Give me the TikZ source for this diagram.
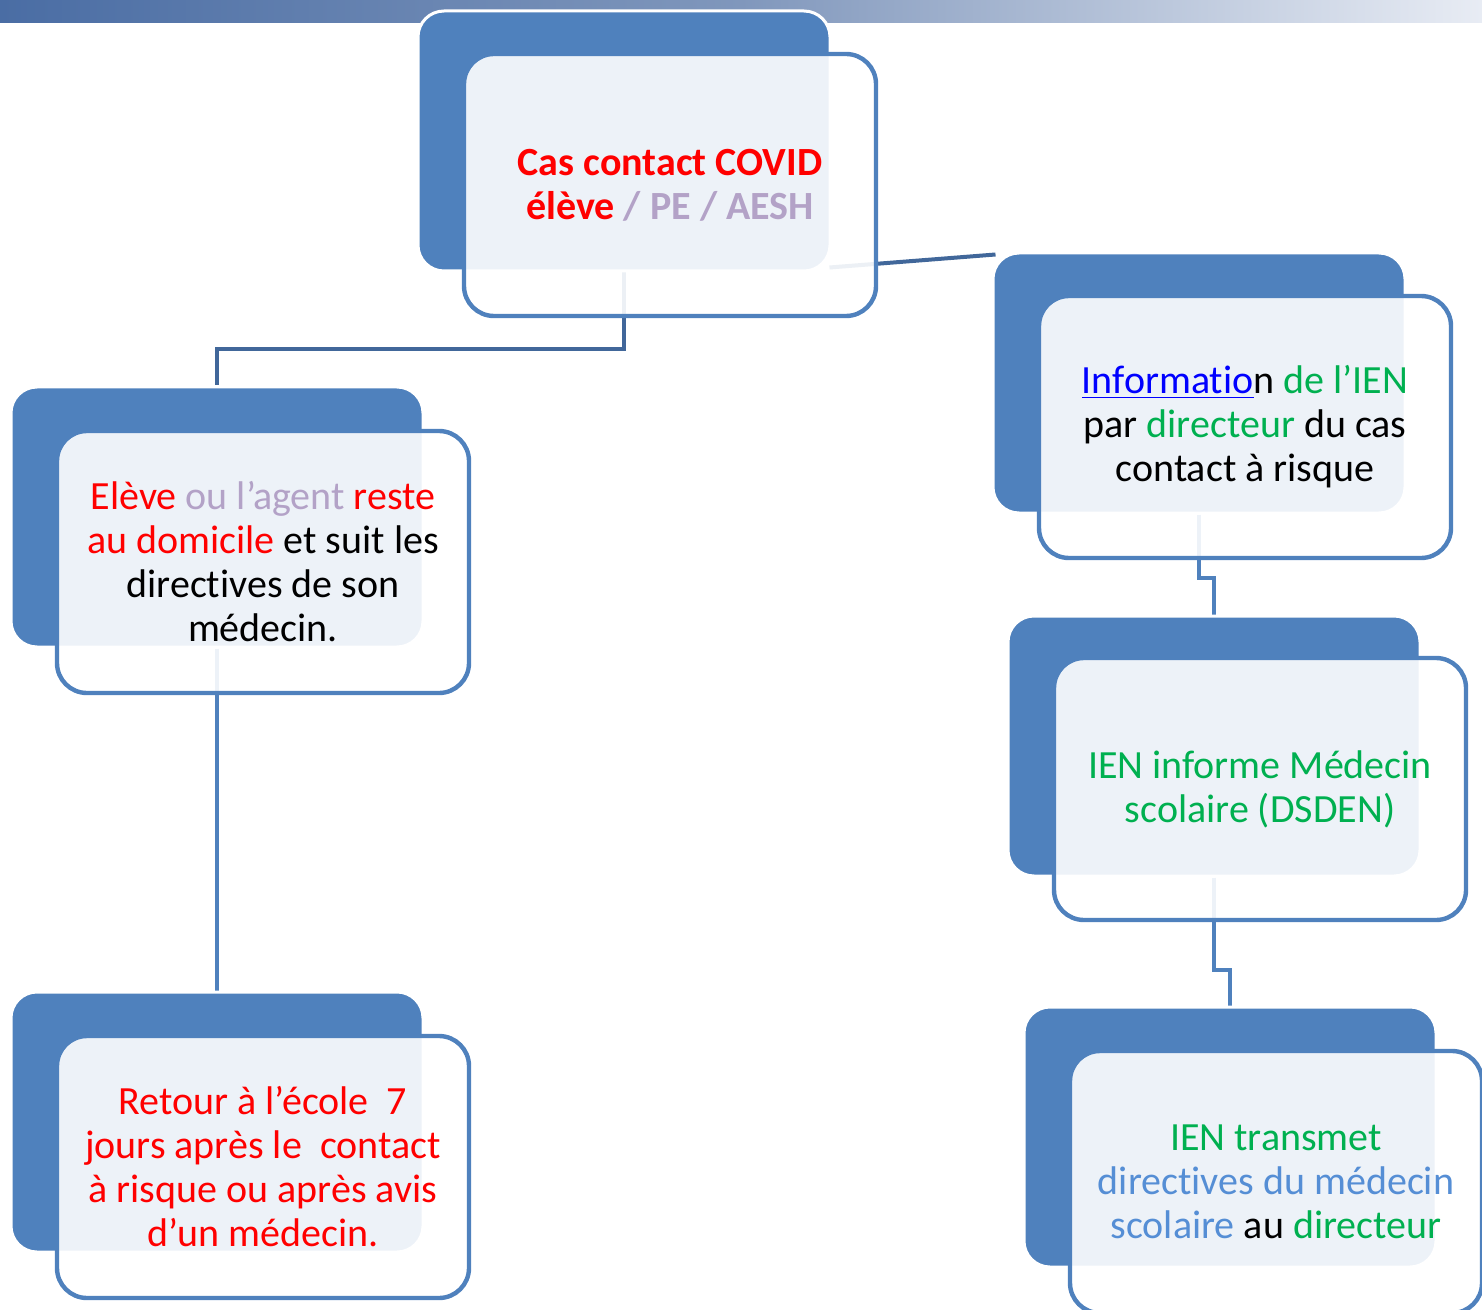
\documentclass[tikz,border=0pt]{standalone}
\usepackage{fontspec}
\setmainfont{Carlito}[RawFeature={-liga;-clig;-calt;-dlig}]
\usetikzlibrary{calc,backgrounds}
\definecolor{accent}{HTML}{4F81BD}
\definecolor{connA}{HTML}{41679A}
\definecolor{red}{HTML}{FF0000}
\definecolor{lav}{HTML}{B3A2C7}
\definecolor{grn}{HTML}{00B050}
\definecolor{hyper}{HTML}{0000FF}
\definecolor{ltb}{HTML}{558ED5}
\definecolor{hdrL}{HTML}{4A6DA4}
\definecolor{hdrM}{HTML}{8097BC}
\definecolor{hdrR}{HTML}{E8ECF4}
\begin{document}
\begin{tikzpicture}[x=0.5pt,y=-0.5pt,
  darkbox/.style={draw=white, line width=1.5pt, fill=accent, rounded corners=13pt,
    minimum width=206pt, minimum height=130pt, inner sep=0pt},
  frontbox/.style={draw=accent, line width=2.2pt, fill=white, fill opacity=0.9, text opacity=1,
    rounded corners=15pt, minimum width=206pt, minimum height=131pt, inner sep=0pt,
    align=center, font=\fontsize{20}{22}\selectfont},
  conna/.style={draw=connA, line width=2pt},
  connb/.style={draw=accent, line width=2pt}]
\useasboundingbox (0,0) rectangle (1482,1310);
\clip (0,0) rectangle (1482,1310);

% boxes
\node[darkbox] (d0) at (624,141) {};
\node[frontbox, font=\fontsize{20}{22}\selectfont\bfseries] (f0) at (670,185)
  {\textcolor{red}{Cas contact COVID}\\
  \textcolor{red}{élève} \textcolor{lav}{/ PE / AESH}};

\node[darkbox] (d1) at (217,517) {};
\node[frontbox] (f1) at (263,562) {\textcolor{red}{Elève} \textcolor{lav}{ou l’agent} \textcolor{red}{reste}\\
  \textcolor{red}{au domicile} et suit les\\ directives de son\\ médecin.};

\node[darkbox] (d2) at (217,1122) {};
\node[frontbox, text=red] (f2) at (263,1167) {Retour à l’école\ \ 7\\
  jours après le\ \ contact\\ à risque ou après avis\\ d’un médecin.};

\node[darkbox] (d3) at (1199,383) {};
\node[frontbox] (f3) at (1245,427) {\textcolor{hyper}{\underline{Informatio}}n \textcolor{grn}{de l’IEN}\\
  par \textcolor{grn}{directeur} du cas\\ contact à risque};

\node[darkbox] (d4) at (1214,746) {};
\node[frontbox, text=grn] (f4) at (1260,789) {IEN informe Médecin\\ scolaire (DSDEN)};

\node[darkbox] (d5) at (1230,1137) {};
\node[frontbox] (f5) at (1276,1182) {\textcolor{grn}{IEN transmet}\\
  \textcolor{ltb}{directives du médecin}\\
  \textcolor{ltb}{scolaire} au \textcolor{grn}{directeur}};

\begin{pgfonlayer}{background}
  \shade[left color=hdrL, right color=hdrR, middle color=hdrM] (0,0) rectangle (1482,23);
  \draw[conna] (d0.south) -- ++(0,77) -| (d1.north);
  \draw[conna] ($(d0.south east)+(-2,-5)$) -- ($(d3.north west)+(4,3)$);
  \draw[connb] (d1.south) -- (d2.north);
  \draw[connb] (d3.south) -- ++(0,63) -| (d4.north);
  \draw[connb] (d4.south) -- ++(0,92) -| (d5.north);
\end{pgfonlayer}
\end{tikzpicture}
\end{document}
